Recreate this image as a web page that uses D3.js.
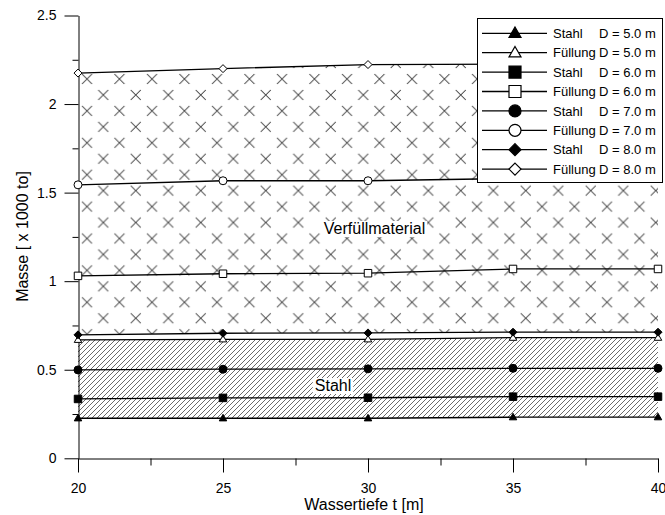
<!DOCTYPE html>
<html>
<head>
<meta charset="utf-8">
<script src="https://cdn.jsdelivr.net/npm/d3@7/dist/d3.min.js"></script>
<style>
  body { margin: 0; background: #fff; }
  svg { display: block; font-family: "Liberation Sans", Arial, sans-serif; }
</style>
</head>
<body>
<script>
// Wassertiefe t [m]
const depths = [20, 25, 30, 35, 40];

// Masse [x 1000 to]
const stahl50  = [0.226, 0.226, 0.226, 0.232, 0.232];
const fuell50  = [0.669, 0.672, 0.672, 0.681, 0.681];
const stahl60  = [0.335, 0.341, 0.342, 0.348, 0.348];
const fuell60  = [1.030, 1.042, 1.045, 1.069, 1.069];
const stahl70  = [0.499, 0.503, 0.505, 0.508, 0.508];
const fuell70  = [1.544, 1.567, 1.567, 1.580, 1.580];
const stahl80  = [0.697, 0.706, 0.708, 0.712, 0.712];
const fuell80  = [2.175, 2.200, 2.223, 2.225, 2.225];

const yTicks = [0, 0.5, 1, 1.5, 2, 2.5];
const yMinor = [0.25, 0.75, 1.25, 1.75, 2.25];
const xTicks = [20, 25, 30, 35, 40];
const xMinor = [22.5, 27.5, 32.5, 37.5];

const legendNames = ["Stahl", "Füllung", "Stahl", "Füllung", "Stahl", "Füllung", "Stahl", "Füllung"];
const legendDiam  = ["D = 5.0 m", "D = 5.0 m", "D = 6.0 m", "D = 6.0 m", "D = 7.0 m", "D = 7.0 m", "D = 8.0 m", "D = 8.0 m"];

const series = [
  { values: stahl50, shape: "triangle", filled: true },
  { values: fuell50, shape: "triangle", filled: false },
  { values: stahl60, shape: "square",   filled: true },
  { values: fuell60, shape: "square",   filled: false },
  { values: stahl70, shape: "circle",   filled: true },
  { values: fuell70, shape: "circle",   filled: false },
  { values: stahl80, shape: "diamond",  filled: true },
  { values: fuell80, shape: "diamond",  filled: false }
];

const w = 665, h = 515;

let svg = d3.select("body").append("svg")
    .attr("width", w)
    .attr("height", h);

let x = d3.scaleLinear().domain([20, 40]).range([78, 658]);
let y = d3.scaleLinear().domain([0, 2.5]).range([458.3, 15.5]);

// patterns
let defs = svg.append("defs");

let diag = defs.append("pattern")
    .attr("id", "diag")
    .attr("patternUnits", "userSpaceOnUse")
    .attr("width", 5).attr("height", 5);
diag.append("path")
    .attr("d", "M-1,1 L1,-1 M0,5 L5,0 M4,6 L6,4")
    .attr("stroke", "#444")
    .attr("stroke-width", 0.8);

let cross = defs.append("pattern")
    .attr("id", "cross")
    .attr("patternUnits", "userSpaceOnUse")
    .attr("x", 87 - 8.125).attr("y", 79 - 7.975)
    .attr("width", 32.5).attr("height", 31.9);
function xMark(cx, cy) {
    return "M" + (cx - 5) + "," + (cy - 5) + "L" + (cx + 5) + "," + (cy + 5) +
           "M" + (cx - 5) + "," + (cy + 5) + "L" + (cx + 5) + "," + (cy - 5);
}
cross.append("path")
    .attr("d", xMark(8.125, 7.975) + xMark(24.375, 23.925))
    .attr("stroke", "#333")
    .attr("stroke-width", 1)
    .attr("fill", "none");

// filled areas
let areaDiag = d3.area()
    .x((d, i) => x(depths[i]))
    .y0((d, i) => y(stahl50[i]))
    .y1((d, i) => y(fuell50[i]));

let areaCross = d3.area()
    .x((d, i) => x(depths[i]))
    .y0((d, i) => y(stahl80[i]))
    .y1((d, i) => y(fuell80[i]));

svg.append("path")
    .datum(depths)
    .attr("d", areaDiag)
    .attr("fill", "url(#diag)");

svg.append("path")
    .datum(depths)
    .attr("d", areaCross)
    .attr("fill", "url(#cross)");

// marker shapes
function markerPath(shape, s) {
    let r = s / 2;
    if (shape === "square") {
        return "M" + (-r) + "," + (-r) + "h" + s + "v" + s + "h" + (-s) + "Z";
    }
    if (shape === "diamond") {
        return "M0," + (-r) + "L" + r + ",0L0," + r + "L" + (-r) + ",0Z";
    }
    if (shape === "triangle") {
        let hh = s * 0.87;
        return "M0," + (-hh * 0.6) + "L" + r + "," + (hh * 0.4) + "L" + (-r) + "," + (hh * 0.4) + "Z";
    }
    // circle
    return "M" + r + ",0A" + r + "," + r + " 0 1,1 " + (-r) + ",0A" + r + "," + r + " 0 1,1 " + r + ",0Z";
}

let line = d3.line()
    .x((d, i) => x(depths[i]))
    .y(d => y(d));

// axes
let yAxis = d3.axisLeft(y)
    .tickValues(yTicks)
    .tickSize(14)
    .tickSizeOuter(0)
    .tickPadding(8)
    .tickFormat(d => String(d));

svg.append("g")
    .attr("transform", "translate(78.5,0)")
    .call(yAxis);

svg.append("g")
    .attr("transform", "translate(78.5,0)")
    .call(d3.axisLeft(y).tickValues(yMinor).tickSize(6).tickSizeOuter(0).tickFormat(""))
    .select(".domain").remove();

let xAxis = d3.axisBottom(x)
    .tickValues(xTicks)
    .tickSize(14)
    .tickSizeOuter(0)
    .tickPadding(11)
    .tickFormat(d => String(d));

svg.append("g")
    .attr("transform", "translate(0,458.5)")
    .call(xAxis);

svg.append("g")
    .attr("transform", "translate(0,458.5)")
    .call(d3.axisBottom(x).tickValues(xMinor).tickSize(7).tickSizeOuter(0).tickFormat(""))
    .select(".domain").remove();

svg.selectAll(".tick text")
    .attr("font-size", "14px")
    .attr("font-family", "Liberation Sans, Arial, sans-serif")
    .attr("fill", "#000");
svg.selectAll(".domain, .tick line").attr("stroke", "#000");

// series lines + markers
series.forEach(function (s) {
    svg.append("path")
        .datum(s.values)
        .attr("d", line)
        .attr("fill", "none")
        .attr("stroke", "#000")
        .attr("stroke-width", 1.3);
});

series.forEach(function (s) {
    svg.selectAll(null)
        .data(s.values)
        .enter()
        .append("path")
        .attr("transform", (d, i) => "translate(" + x(depths[i]) + "," + y(d) + ")")
        .attr("d", markerPath(s.shape, s.shape === "circle" ? 8 : (s.shape === "diamond" ? 8 : 7.5)))
        .attr("fill", s.filled ? "#000" : "#fff")
        .attr("stroke", "#000")
        .attr("stroke-width", 1);
});

// region labels with white background
function boxLabel(txt, cx, baseline) {
    let g = svg.append("g");
    let t = g.append("text")
        .attr("x", cx)
        .attr("y", baseline)
        .attr("text-anchor", "middle")
        .attr("font-size", "16px")
        .attr("fill", "#000")
        .text(txt);
    let bb = t.node().getBBox();
    g.insert("rect", "text")
        .attr("x", bb.x - 2)
        .attr("y", bb.y + 1)
        .attr("width", bb.width + 4)
        .attr("height", bb.height - 1)
        .attr("fill", "#fff");
}
boxLabel("Verfüllmaterial", 374.5, 234);
boxLabel("Stahl", 333, 391);

// axis titles
svg.append("text")
    .attr("x", 364)
    .attr("y", 510)
    .attr("text-anchor", "middle")
    .attr("font-size", "16px")
    .text("Wassertiefe t [m]");

svg.append("text")
    .attr("transform", "translate(28,236.5) rotate(-90)")
    .attr("text-anchor", "middle")
    .attr("font-size", "16px")
    .text("Masse [ x 1000 to]");

// legend
let legend = svg.append("g");
legend.append("rect")
    .attr("x", 477.5).attr("y", 18.5)
    .attr("width", 185).attr("height", 164)
    .attr("fill", "#fff")
    .attr("stroke", "#000")
    .attr("stroke-width", 1);

series.forEach(function (s, i) {
    let ly = 33.3 + i * 19.4;
    legend.append("line")
        .attr("x1", 482).attr("x2", 547)
        .attr("y1", ly).attr("y2", ly)
        .attr("stroke", "#000")
        .attr("stroke-width", 1.3);
    legend.append("path")
        .attr("transform", "translate(515," + ly + ")")
        .attr("d", markerPath(s.shape, 12))
        .attr("fill", s.filled ? "#000" : "#fff")
        .attr("stroke", "#000")
        .attr("stroke-width", 1.2);
    legend.append("text")
        .attr("x", 553).attr("y", ly + 4.6)
        .attr("font-size", "13px")
        .text(legendNames[i]);
    legend.append("text")
        .attr("x", 599).attr("y", ly + 4.6)
        .attr("font-size", "13px")
        .text(legendDiam[i]);
});
</script>
</body>
</html>
